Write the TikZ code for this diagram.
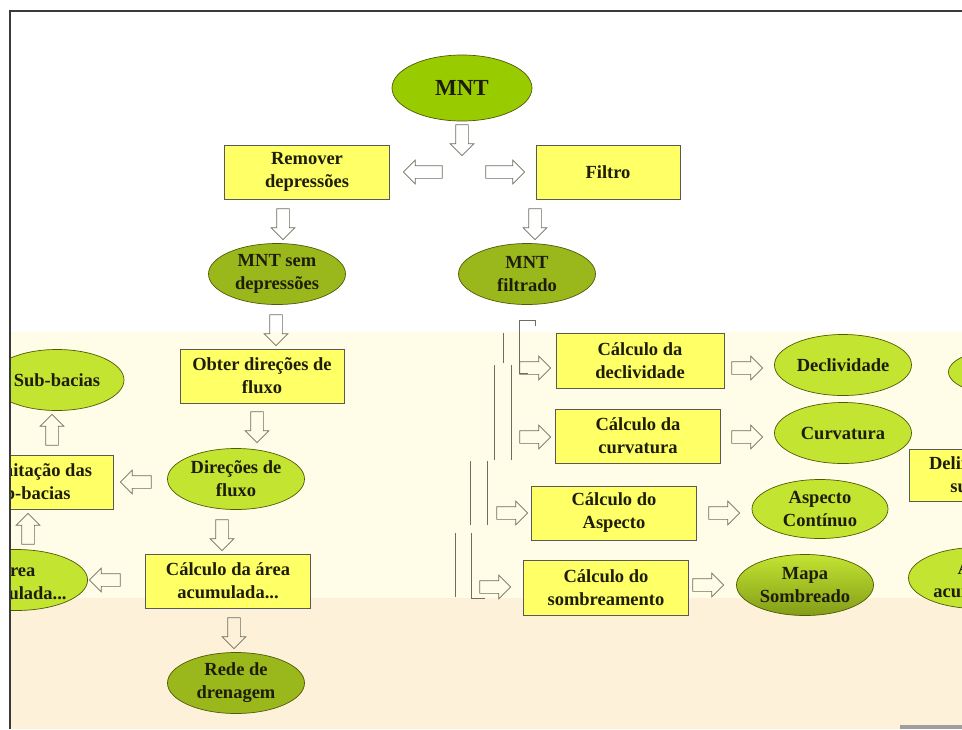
\documentclass[tikz,border=0pt]{standalone}
\usepackage{fontspec}
\setmainfont{Liberation Serif}
\usepackage{tikz}
\usetikzlibrary{shapes.geometric,shapes.arrows}
\definecolor{boxyellow}{HTML}{FFFF66}
\definecolor{demgreen}{HTML}{99CC00}
\definecolor{olivegreen}{HTML}{9AB81C}
\definecolor{limegreen}{HTML}{C4E432}
\definecolor{edgeolive}{HTML}{4F5A05}
\definecolor{arrowgrey}{HTML}{6E6E5E}
\definecolor{bandcream}{HTML}{FFFDE7}
\definecolor{bandbeige}{HTML}{FDF1DA}
\definecolor{framegrey}{HTML}{3A3A3A}
\definecolor{ink}{HTML}{1E1E08}
\newcommand{\diagfont}{\fontsize{18.5}{23}\selectfont\bfseries}
\tikzset{
    proc-box/.style = {draw=black!65, fill=boxyellow, line width=0.7pt, rectangle, minimum width=165pt, minimum height=54pt, inner sep=2pt, align=center, text=ink, font=\diagfont},
    dem-ellipse/.style = {ellipse, draw=edgeolive, fill=olivegreen, line width=0.7pt, minimum width=137pt, minimum height=61pt, inner sep=0pt, align=center, text=ink, font=\diagfont},
    out-ellipse/.style = {dem-ellipse, fill=limegreen},
    hollow-arrow/.style = {single arrow, draw=arrowgrey, line width=0.7pt, minimum height=31pt, inner sep=6pt, single arrow head extend=5.5pt},
}

\begin{document}
\begin{tikzpicture}[x=1pt, y=-1pt]
\useasboundingbox (0,0) rectangle (962,729);
% background bands
\fill[white] (0,0) rectangle (962,729);
\fill[bandcream] (10,332) rectangle (962,598);
\fill[bandbeige] (10,598) rectangle (962,729);
\fill[gray!75] (900,725) rectangle (962,729);

\begin{scope}
\clip (10,11) rectangle (962,729);
% top of the chart
\node[dem-ellipse, fill=demgreen, minimum width=140pt, minimum height=66pt, font=\fontsize{23}{26}\selectfont\bfseries] (mnt) at (462,88) {MNT};
\node[proc-box] (remover) at (307,172) {Remover\\depressões};
\node[proc-box, minimum width=144pt] (filtro) at (608,172) {Filtro};
\node[dem-ellipse] (mntsem) at (277,274) {MNT sem\\depressões};
\node[dem-ellipse] (mntfilt) at (527,274) {MNT\\filtrado};
\node[hollow-arrow, rotate=270] (a-mnt) at (462,137) {};
\node[hollow-arrow, rotate=180, minimum height=39pt] (a-rem) at (426,172) {};
\node[hollow-arrow, minimum height=39pt] (a-fil) at (502,172) {};
\node[hollow-arrow, rotate=270] (a-remdown) at (283,221) {};
\node[hollow-arrow, rotate=270] (a-fildown) at (535,221) {};

% left branch
\node[proc-box, minimum width=164pt] (obter) at (262,376) {Obter direções de\\fluxo};
\node[out-ellipse] (direcoes) at (236,479) {Direções de\\fluxo};
\node[proc-box, minimum width=168pt] (delim) at (29,482) {Delimitação das\\sub-bacias};
\node[out-ellipse, minimum width=134pt] (subbacias) at (57,380) {Sub-bacias};
\node[proc-box] (areacalc) at (228,581) {Cálculo da área\\acumulada...};
\node[out-ellipse, minimum width=132pt] (areaacum) at (16,580) {Área\\acumulada...};
\node[dem-ellipse] (rede) at (236,683) {Rede de\\drenagem};
\node[hollow-arrow, rotate=270] (a-semdown) at (276,327) {};
\node[hollow-arrow, rotate=270] (a-obter) at (257,424) {};
\node[hollow-arrow, rotate=180] (a-dirleft) at (139,482) {};
\node[hollow-arrow, rotate=90] (a-delimup) at (52,433) {};
\node[hollow-arrow, rotate=270] (a-dirdown) at (222,532) {};
\node[hollow-arrow, rotate=180] (a-arealeft) at (108,580) {};
\node[hollow-arrow, rotate=90] (a-acumup) at (28,532) {};
\node[hollow-arrow, rotate=270] (a-rede) at (234,630) {};

% right branch
\draw[arrowgrey, line width=1pt] (519,326) -- (519,320) -- (535,320) -- (535,326);
\draw[arrowgrey, line width=1pt] (519,320) -- (519,373) -- (528,373);
\draw[arrowgrey, line width=1pt] (503,333) -- (503,363);
\draw[arrowgrey, line width=1pt] (494,365) -- (494,460) (511,365) -- (511,460);
\draw[arrowgrey, line width=1pt] (470,461) -- (470,525) (487,461) -- (487,525);
\draw[arrowgrey, line width=1pt] (455,533) -- (455,597) (471,533) -- (471,598) -- (485,598);
\node[proc-box, minimum width=168pt, minimum height=55pt] (decl) at (640,361) {Cálculo da\\declividade};
\node[proc-box] (curv) at (638,436) {Cálculo da\\curvatura};
\node[proc-box] (aspecto) at (614,513) {Cálculo do\\Aspecto};
\node[proc-box, minimum height=55pt] (sombr) at (606,588) {Cálculo do\\sombreamento};
\node[out-ellipse] (declout) at (843,365) {Declividade};
\node[out-ellipse] (curvout) at (843,433) {Curvatura};
\node[out-ellipse, minimum width=136pt, minimum height=59pt] (aspout) at (820,509) {Aspecto\\Contínuo};
\node[out-ellipse, top color=limegreen, bottom color=olivegreen!85!black] (mapa) at (805,585) {Mapa\\Sombreado};
\node[out-ellipse, minimum height=50pt] (ellright) at (1017,372) {};
\node[proc-box, minimum height=52pt] (delimright) at (992,475) {Delimitação das\\sub-bacias};
\node[out-ellipse] (arearight) at (977,578) {Área\\acumulada};
\node[hollow-arrow] (a-declin) at (532,368) {};
\node[hollow-arrow] (a-declout) at (744,368) {};
\node[hollow-arrow] (a-curvin) at (532,437) {};
\node[hollow-arrow] (a-curvout) at (744,437) {};
\node[hollow-arrow] (a-aspin) at (509,513) {};
\node[hollow-arrow] (a-aspout) at (721,513) {};
\node[hollow-arrow] (a-sombin) at (492,587) {};
\node[hollow-arrow] (a-sombout) at (705,585) {};
\end{scope}

% frame
\draw[framegrey, line width=1.2pt] (10,729) -- (10,11) -- (962,11);
\end{tikzpicture}
\end{document}
